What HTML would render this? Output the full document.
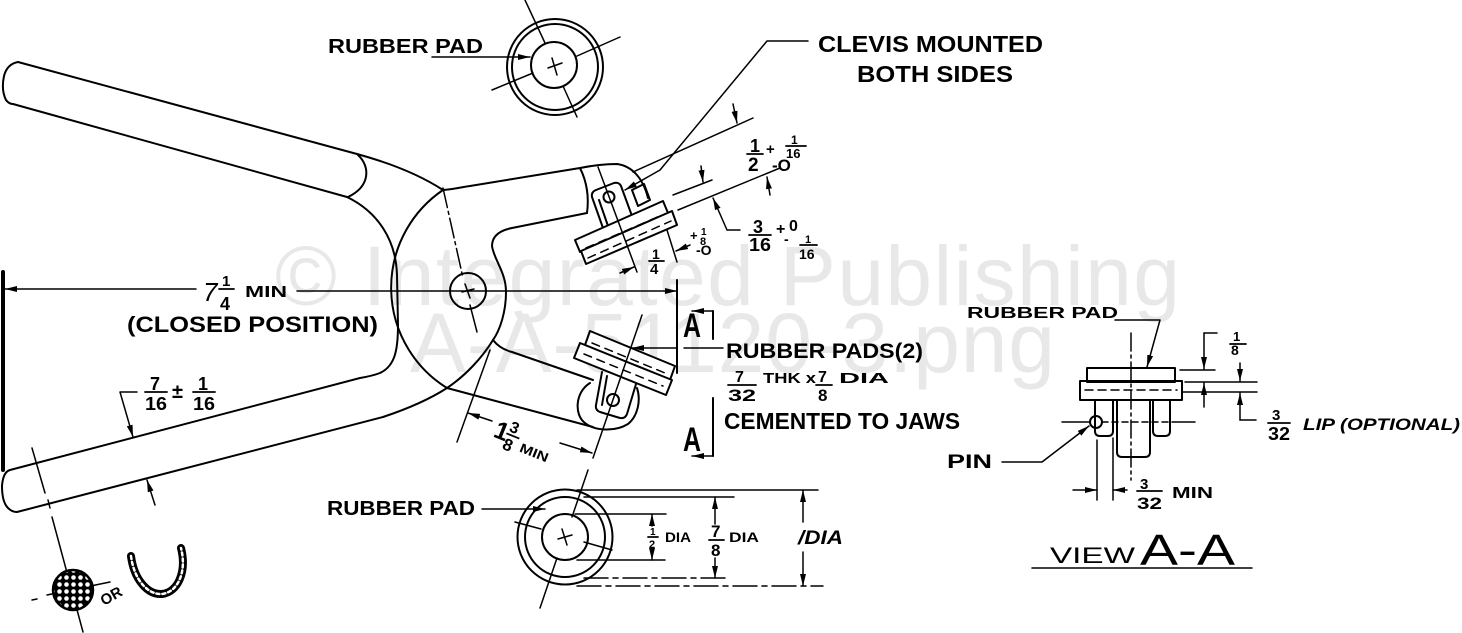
<!DOCTYPE html>
<html><head><meta charset="utf-8">
<style>
html,body{margin:0;padding:0;background:#fff;}
svg{display:block;}
text{font-family:"Liberation Sans",Arial,sans-serif;}
</style></head><body>
<svg width="1462" height="633" viewBox="0 0 1462 633" xmlns="http://www.w3.org/2000/svg">
<defs>
<marker id="ar" viewBox="0 0 12 6" refX="12" refY="3" markerWidth="12" markerHeight="6" markerUnits="userSpaceOnUse" orient="auto-start-reverse"><path d="M0,0 L12,3 L0,6 z" fill="#000"/></marker>
<pattern id="hp" width="7" height="7" patternUnits="userSpaceOnUse"><rect width="7" height="7" fill="#000"/><circle cx="3.5" cy="3.5" r="2.3" fill="#fff"/></pattern>
</defs>
<rect width="1462" height="633" fill="#fff"/>

<!-- watermark -->
<g fill="#e8e8e8" font-size="84">
<text x="275" y="305" textLength="905" lengthAdjust="spacing">© Integrated Publishing</text>
<text x="410" y="372" textLength="645" lengthAdjust="spacing">A-A-51120-3.png</text>
</g>

<g stroke="#000" fill="none" stroke-width="2" stroke-linecap="round" stroke-linejoin="round">
<!-- upper handle -->
<path d="M18,62 L357,154 C390,163 420,175 443,190"/>
<path d="M18,62 Q7,64 4,76 Q1,90 6,100 Q9,104 13,104"/>
<path d="M13,104 L347,197 C378,212 396,240 397,275 L398,325 C398,350 395,366 380,373 C372,376 366,377 360,378 L10,470"/>
<path d="M358,155 C370,166 371,186 348,197"/>
<!-- lower handle -->
<path d="M10,470 Q3,472 2,486 Q2,502 8,508 Q12,512 17,512"/>
<path d="M17,512 L383,417 C410,408 430,399 447,388 C465,376 482,358 493,340"/>
<!-- boss arc -->
<path d="M443,190 A118,118 0 0 0 447,388"/>
<!-- neck and jaws -->
<path d="M587,213 L512,228 Q492,232 492,246 C494,260 506,272 506,292 C506,312 500,330 493,340 Q500,349 512,352 L593,380"/>
<path d="M443,190 C455,189 462,187 470,186 L580,168 C595,165 607,164 617,164 C632,166 643,178 648,198"/>
<path d="M580,168 C587,182 589,198 587,213"/>
<path d="M447,388 L593,427"/>
<!-- pivot -->
<circle cx="468" cy="291" r="18"/>
<path d="M443,188 L463,278" stroke-width="1.5" stroke-dasharray="20,4,3,4"/>
<path d="M470,305 L477,332" stroke-width="1.5"/>
<path d="M465,284 L470,298 M462,292 L474,289" stroke-width="1.5"/>

<!-- upper clevis -->
<path d="M603,228 L592,197 Q591,192 596,190 L614,183 Q619,182 621,186 L632,216"/>
<path d="M599,200 L608,226"/>
<circle cx="609" cy="197" r="5.5"/>
<path d="M632,190 L644,184 L650,200 L638,206 Z"/>
<!-- upper pad -->
<path d="M575,240 L663,201 L668,213 L580,252 Z" fill="#fff"/>
<path d="M581,251 L672,211 L677,225 L586,264 Z" fill="#fff"/>
<path d="M586,248 L662,215" stroke-width="1.5" stroke-dasharray="8,6"/>
<path d="M588,258 L671,221" stroke-width="1.5" stroke-dasharray="8,6"/>
<path d="M598,167 L637,272" stroke-width="1.5"/>
<path d="M667,230 L677,262" stroke-width="1.5"/>

<!-- lower clevis -->
<path d="M590,383 C575,392 574,415 585,423 C595,431 615,432 628,424 C638,416 641,400 637,388"/>
<path d="M602,372 L596,405 Q595,410 600,412 L620,418 Q625,419 627,414 L636,384" fill="#fff"/>
<path d="M607,376 L602,405"/>
<circle cx="613" cy="400" r="6"/>
<!-- lower pad -->
<path d="M590,331 L675,366 L670,380 L585,345 Z" fill="#fff"/>
<path d="M580,343 L672,380 L666,395 L574,358 Z" fill="#fff"/>
<path d="M592,343 L665,373" stroke-width="1.5" stroke-dasharray="8,6"/>
<path d="M584,354 L663,386" stroke-width="1.5" stroke-dasharray="8,6"/>
<path d="M642,315 L593,458" stroke-width="1.5"/>

<!-- 1 3/8 dim -->
<path d="M457,442 L490,350" stroke-width="1.5"/>
<path d="M492,421 L468,413" stroke-width="1.5" marker-end="url(#ar)"/>
<path d="M560,443 L592,453" stroke-width="1.5" marker-end="url(#ar)"/>

<!-- 7 1/4 dim -->
<path d="M196,289 L5,289" stroke-width="1.5" marker-end="url(#ar)"/>
<path d="M297,291 L677,291" stroke-width="1.5" marker-end="url(#ar)"/>
<path d="M677,280 L677,373"/>
<path d="M3,272 L3,470" stroke-width="4"/>

<!-- 7/16 leaders -->
<path d="M137,392 L120,392 L133,437" stroke-width="1.5" marker-end="url(#ar)"/>
<path d="M155,505 L147,480" stroke-width="1.5" marker-end="url(#ar)"/>

<!-- cut line -->
<path d="M32,448 L45,493 M48,500 L50,508 M52,517 L83,632" stroke-width="1.5"/>
<path d="M32,600 L37,599 M47,595 L110,582" stroke-width="1.5"/>
<circle cx="73" cy="590" r="20" fill="url(#hp)" stroke-width="2.5"/>
<path d="M131,556 C134,580 148,595 162,594 C178,592 187,572 181,548" stroke-width="8"/>
<path d="M131,556 C134,580 148,595 162,594 C178,592 187,572 181,548" stroke="#fff" stroke-width="2.5" stroke-dasharray="3,3"/>

<!-- top pad circle -->
<circle cx="555" cy="67" r="48"/>
<circle cx="555" cy="67" r="43"/>
<circle cx="554" cy="65" r="23"/>
<path d="M525,0 L545,43 M563,86 L577,117 M492,90 L533,73 M577,56 L620,37" stroke-width="1.5"/>
<path d="M552,58 L557,75 M548,68 L562,63" stroke-width="1.5"/>
<path d="M432,57 L530,57" stroke-width="1.5" marker-end="url(#ar)"/>

<!-- bottom pad circle -->
<circle cx="565" cy="537" r="47.5"/>
<circle cx="565" cy="537" r="40"/>
<circle cx="565" cy="537" r="23"/>
<path d="M588,470 L572,517 M557,558 L540,608 M515,522 L541,529 M584,542 L612,550" stroke-width="1.5"/>
<path d="M562,529 L567,545 M558,539 L572,535" stroke-width="1.5"/>
<path d="M482,509 L545,509" stroke-width="1.5" marker-end="url(#ar)"/>
<g stroke-width="1.5">
<path d="M577,490 L818,490"/>
<path d="M577,586 L823,586" stroke-dasharray="24,5,5,5"/>
<path d="M584,497 L734,497"/>
<path d="M584,578 L727,578" stroke-dasharray="24,5,5,5"/>
<path d="M575,514 L666,514"/>
<path d="M577,560 L665,560"/>
<path d="M652,526 L652,514" marker-end="url(#ar)"/>
<path d="M652,548 L652,560" marker-end="url(#ar)"/>
<path d="M715,524 L715,497" marker-end="url(#ar)"/>
<path d="M715,558 L715,578" marker-end="url(#ar)"/>
<path d="M803,522 L803,490" marker-end="url(#ar)"/>
<path d="M803,552 L803,586" marker-end="url(#ar)"/>
</g>

<!-- right labels leaders -->
<path d="M684,348 L723,348" stroke-width="1.5"/>
<path d="M677,348 L632,348" stroke-width="1.5" marker-end="url(#ar)"/>
<path d="M713,311 L713,339"/>
<path d="M713,311 L692,311" stroke-width="1.5" marker-end="url(#ar)"/>
<path d="M713,398 L713,456"/>
<path d="M713,456 L692,456" stroke-width="1.5" marker-end="url(#ar)"/>

<!-- clevis leader -->
<path d="M808,41 L767,41 L660,170 L625,190" stroke-width="1.5" marker-end="url(#ar)"/>
<!-- upper dims -->
<g stroke-width="1.5">
<path d="M633,172 L753,118"/>
<path d="M673,195 L712,180"/>
<path d="M678,210 L780,168"/>
<path d="M733,104 L737,123" marker-end="url(#ar)"/>
<path d="M770,195 L767,177" marker-end="url(#ar)"/>
<path d="M701,166 L703,182" marker-end="url(#ar)"/>
<path d="M740,230 L727,230 L713,198" marker-end="url(#ar)"/>
<path d="M620,273 L634,267" marker-end="url(#ar)"/>
<path d="M690,245 L676,251" marker-end="url(#ar)"/>
</g>

<!-- View A-A -->
<path d="M1115,320 L1160,320 L1147,367" stroke-width="1.5" marker-end="url(#ar)"/>
<rect x="1087" y="368" width="88" height="14"/>
<rect x="1080" y="381" width="102" height="19"/>
<path d="M1085,390 L1177,390" stroke-width="1.5" stroke-dasharray="8,5"/>
<path d="M1095,400 L1095,431 Q1095,436 1100,436 L1108,436 Q1113,436 1113,431 L1113,400"/>
<path d="M1117,400 L1117,452 Q1117,457 1122,457 L1145,457 Q1150,457 1150,452 L1150,400"/>
<path d="M1153,400 L1153,431 Q1153,436 1158,436 L1165,436 Q1170,436 1170,431 L1170,400"/>
<path d="M1131,333 L1131,480" stroke-width="1.5" stroke-dasharray="18,4,3,4"/>
<path d="M1062,422 L1090,422 M1172,422 L1195,422" stroke-width="1.5"/>
<path d="M1102,422 L1172,422" stroke-width="1.5" stroke-dasharray="6,4"/>
<circle cx="1096" cy="422" r="6"/>
<path d="M1002,462 L1042,462 L1089,426" stroke-width="1.5" marker-end="url(#ar)"/>
<g stroke-width="1.5">
<path d="M1097,440 L1097,500 M1113,438 L1113,500"/>
<path d="M1073,490 L1097,490" marker-end="url(#ar)"/>
<path d="M1127,490 L1113,490" marker-end="url(#ar)"/>
<path d="M1180,370 L1215,370 M1185,382 L1257,382 M1183,392 L1257,392"/>
<path d="M1204,333 L1217,333"/>
<path d="M1204,333 L1204,369" marker-end="url(#ar)"/>
<path d="M1204,407 L1204,383" marker-end="url(#ar)"/>
<path d="M1240,363 L1240,381" marker-end="url(#ar)"/>
<path d="M1240,420 L1240,393" marker-end="url(#ar)"/>
<path d="M1240,420 L1256,420"/>
<path d="M1032,568 L1252,568"/>
</g>

<!-- fraction bars -->
<g stroke-width="1.8">
<path d="M219,289 L234,289"/>
<path d="M145,392 L167,392 M193,392 L215,392"/>
<path d="M747,154 L763,154 M786,146 L806,146"/>
<path d="M749,235 L771,235 M800,245 L817,245"/>
<path d="M649,261 L664,261"/>
<path d="M728,385 L756,385 M816,385 L832,385"/>
<path d="M648,537 L658,537 M709,540 L724,540"/>
<path d="M1230,344 L1246,344 M1268,423 L1290,423 M1137,491 L1162,491"/>
</g>
</g>

<!-- text -->
<g fill="#000" font-weight="bold">
<text x="328" y="53" font-size="20" textLength="155" lengthAdjust="spacingAndGlyphs">RUBBER PAD</text>
<text x="818" y="52" font-size="23" textLength="225" lengthAdjust="spacingAndGlyphs">CLEVIS MOUNTED</text>
<text x="857" y="82" font-size="23" textLength="156" lengthAdjust="spacingAndGlyphs">BOTH SIDES</text>

<text x="203" y="301" font-size="26" font-weight="normal" font-style="italic">7</text>
<text x="222" y="286" font-size="15">1</text>
<text x="220" y="310" font-size="18">4</text>
<text x="245" y="297" font-size="16" textLength="42" lengthAdjust="spacingAndGlyphs">MIN</text>
<text x="127" y="332" font-size="22" textLength="251" lengthAdjust="spacingAndGlyphs">(CLOSED POSITION)</text>

<text x="150" y="390" font-size="18">7</text>
<text x="145" y="410" font-size="18" textLength="22" lengthAdjust="spacingAndGlyphs">16</text>
<text x="172" y="398" font-size="20">±</text>
<text x="198" y="390" font-size="18">1</text>
<text x="193" y="410" font-size="18" textLength="22" lengthAdjust="spacingAndGlyphs">16</text>

<text x="750" y="152" font-size="18">1</text>
<text x="748" y="171" font-size="19">2</text>
<text x="766" y="154" font-size="15">+</text>
<text x="791" y="144" font-size="12">1</text>
<text x="786" y="158" font-size="13">16</text>
<text x="772" y="171" font-size="17">-O</text>

<text x="753" y="233" font-size="18">3</text>
<text x="749" y="251" font-size="18" textLength="22" lengthAdjust="spacingAndGlyphs">16</text>
<text x="776" y="234" font-size="16">+</text>
<text x="789" y="231" font-size="16">0</text>
<text x="784" y="244" font-size="14">-</text>
<text x="805" y="243" font-size="11">1</text>
<text x="799" y="259" font-size="14">16</text>

<text x="690" y="240" font-size="13">+</text>
<text x="701" y="235" font-size="10">1</text>
<text x="700" y="245" font-size="11">8</text>
<text x="696" y="255" font-size="14">-O</text>

<text x="652" y="259" font-size="14">1</text>
<text x="650" y="274" font-size="15">4</text>

<text x="683" y="337" font-size="34" textLength="18" lengthAdjust="spacingAndGlyphs">A</text>
<text x="683" y="451" font-size="34" textLength="18" lengthAdjust="spacingAndGlyphs">A</text>
<text x="726" y="358" font-size="21" textLength="197" lengthAdjust="spacingAndGlyphs">RUBBER PADS(2)</text>
<text x="735" y="382" font-size="16">7</text>
<text x="728" y="401" font-size="17" textLength="28" lengthAdjust="spacingAndGlyphs">32</text>
<text x="763" y="383" font-size="15" textLength="53" lengthAdjust="spacingAndGlyphs">THK x</text>
<text x="818" y="382" font-size="16">7</text>
<text x="818" y="401" font-size="17">8</text>
<text x="839" y="383" font-size="15" textLength="50" lengthAdjust="spacingAndGlyphs">DIA</text>
<text x="724" y="429" font-size="23" textLength="236" lengthAdjust="spacingAndGlyphs">CEMENTED TO JAWS</text>

<g transform="translate(496,427) rotate(22)">
<text x="0" y="10" font-size="25">1</text>
<text x="13" y="-1" font-size="16">3</text>
<path d="M12,2 L26,2" stroke="#000" stroke-width="1.8"/>
<text x="13" y="18" font-size="17">8</text>
<text x="30" y="14" font-size="13" textLength="30" lengthAdjust="spacingAndGlyphs">MIN</text>
</g>

<text x="104" y="606" font-size="15" transform="rotate(-30 104 606)">OR</text>

<text x="327" y="515" font-size="20" textLength="148" lengthAdjust="spacingAndGlyphs">RUBBER PAD</text>
<text x="650" y="535" font-size="10">1</text>
<text x="649" y="548" font-size="11">2</text>
<text x="665" y="542" font-size="14" textLength="26" lengthAdjust="spacingAndGlyphs">DIA</text>
<text x="711" y="537" font-size="17">7</text>
<text x="711" y="556" font-size="17">8</text>
<text x="729" y="542" font-size="14" textLength="30" lengthAdjust="spacingAndGlyphs">DIA</text>
<text x="798" y="544" font-size="19" font-style="italic" textLength="45" lengthAdjust="spacingAndGlyphs">/DIA</text>

<text x="967" y="318" font-size="16" textLength="151" lengthAdjust="spacingAndGlyphs">RUBBER PAD</text>
<text x="1233" y="341" font-size="13">1</text>
<text x="1231" y="355" font-size="14">8</text>
<text x="1272" y="420" font-size="15">3</text>
<text x="1268" y="440" font-size="18" textLength="22" lengthAdjust="spacingAndGlyphs">32</text>
<text x="1303" y="430" font-size="17" font-style="italic" textLength="157" lengthAdjust="spacingAndGlyphs">LIP (OPTIONAL)</text>
<text x="947" y="468" font-size="19" textLength="45" lengthAdjust="spacingAndGlyphs">PIN</text>
<text x="1140" y="489" font-size="15">3</text>
<text x="1137" y="509" font-size="17" textLength="25" lengthAdjust="spacingAndGlyphs">32</text>
<text x="1172" y="498" font-size="16" textLength="41" lengthAdjust="spacingAndGlyphs">MIN</text>
<text x="1050" y="563" font-size="22" font-weight="normal" textLength="85" lengthAdjust="spacingAndGlyphs">VIEW</text>
<text x="1140" y="565" font-size="44" font-weight="normal" textLength="95" lengthAdjust="spacingAndGlyphs">A-A</text>
</g>
</svg>
</body></html>
